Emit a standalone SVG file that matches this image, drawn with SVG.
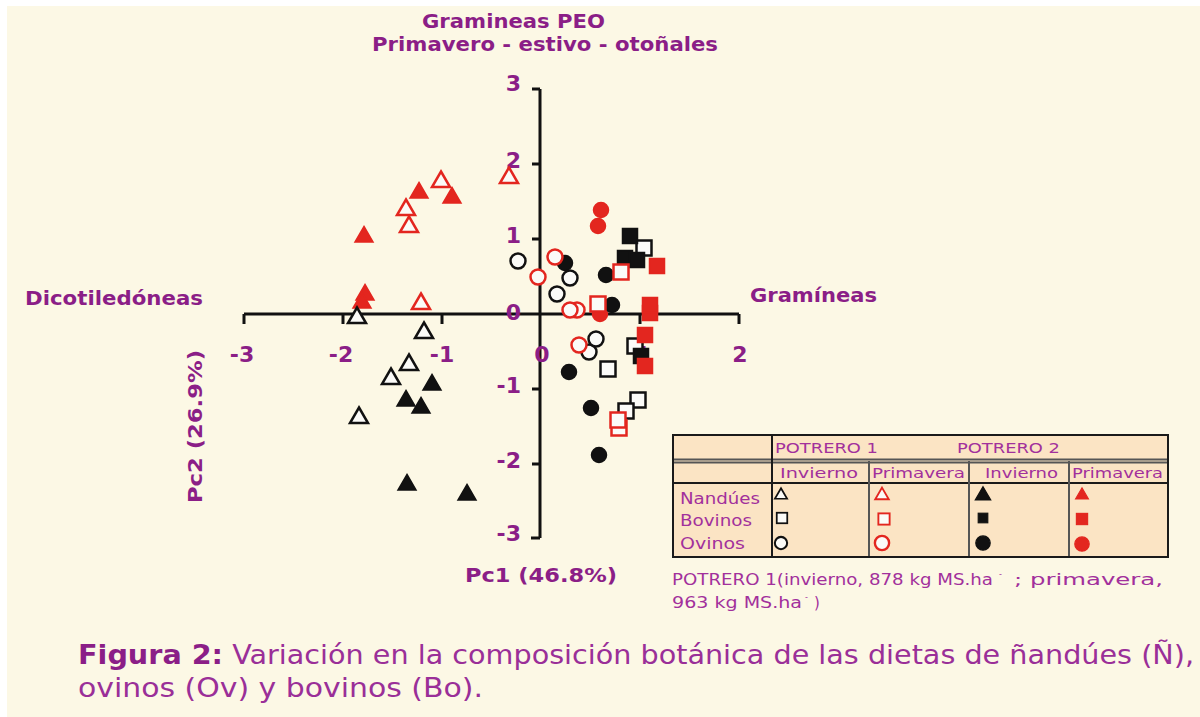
<svg xmlns="http://www.w3.org/2000/svg" xmlns:xlink="http://www.w3.org/1999/xlink" width="1200" height="717" viewBox="0 0 1200 717">
<style>
.lab{font-family:"DejaVu Sans","Verdana",sans-serif;font-weight:bold;font-size:20px;fill:#8b1e87}
.tick{font-family:"DejaVu Sans","Verdana",sans-serif;font-weight:bold;font-size:22px;fill:#8b1e87}
.tx{text-anchor:middle}
.ty{text-anchor:end}
.leg{font-family:"DejaVu Sans","Verdana",sans-serif;font-size:14px;fill:#a2309c}
.legr{font-family:"DejaVu Sans","Verdana",sans-serif;font-size:16px;fill:#a2309c}
.foot{font-family:"DejaVu Sans","Verdana",sans-serif;font-size:15px;fill:#a2309c}
.cap{font-family:"DejaVu Sans","Verdana",sans-serif;font-size:27px;fill:#9a2f98}
.axis{stroke:#111;stroke-width:3;fill:none}
.ob{fill:#fbfbf8;stroke:#111;stroke-width:2.5}
.or{fill:#fbfbf8;stroke:#e3261f;stroke-width:2.5}
.fb{fill:#111;stroke:#111;stroke-width:1.5}
.fr{fill:#e3261f;stroke:#e3261f;stroke-width:1.5}
.tl{fill:#fbe4c4;stroke:none}
.tb{stroke:#1a1a1a;stroke-width:2;fill:none}
.tg{stroke:#555;stroke-width:2;fill:none}
</style>
<defs>
<path id="tri" d="M0,-8.5 L9,7 L-9,7 Z"/>
<rect id="sq" x="-7.5" y="-7.5" width="15" height="15"/>
<circle id="ci" cx="0" cy="0" r="7.5"/>
</defs>
<rect x="0" y="0" width="1200" height="717" fill="#ffffff"/>
<rect x="7" y="6" width="1193" height="711" fill="#fcf8e5"/>

<g id="titles">
<text class="lab" x="422" y="28" textLength="183" lengthAdjust="spacingAndGlyphs">Gramineas PEO</text>
<text class="lab" x="372" y="51" textLength="346" lengthAdjust="spacingAndGlyphs">Primavero - estivo - otoñales</text>
<text class="lab" x="25" y="305" textLength="178" lengthAdjust="spacingAndGlyphs">Dicotiledóneas</text>
<text class="lab" x="750" y="302" textLength="127" lengthAdjust="spacingAndGlyphs">Gramíneas</text>
<text class="lab" transform="translate(202,503) rotate(-90)" textLength="153" lengthAdjust="spacingAndGlyphs">Pc2 (26.9%)</text>
<text class="lab" x="465" y="582" textLength="152" lengthAdjust="spacingAndGlyphs">Pc1 (46.8%)</text>
</g>

<g id="axes">
<path class="axis" d="M244,314 H739 M244,314 V324 M343,314 V324 M442,314 V324 M640,314 V324 M739,314 V324"/>
<path class="axis" d="M540,89 V538 M532,89 H540 M532,164 H540 M532,239 H540 M532,389 H540 M532,464 H540 M531,538 H540"/>
</g>

<g id="tick-labels">
<text class="tick tx" x="242" y="362">-3</text>
<text class="tick tx" x="341" y="362">-2</text>
<text class="tick tx" x="442" y="362">-1</text>
<text class="tick tx" x="542" y="362">0</text>
<text class="tick tx" x="643" y="362">1</text>
<text class="tick tx" x="740" y="362">2</text>
<text class="tick ty" x="521" y="91">3</text>
<text class="tick ty" x="521" y="168">2</text>
<text class="tick ty" x="521" y="243">1</text>
<text class="tick ty" x="521" y="320">0</text>
<text class="tick ty" x="521" y="393">-1</text>
<text class="tick ty" x="521" y="468">-2</text>
<text class="tick ty" x="521" y="541">-3</text>
</g>

<g id="points-nandues">
<use href="#tri" class="or" x="441" y="180"/>
<use href="#tri" class="fr" x="419" y="191"/>
<use href="#tri" class="fr" x="452" y="196"/>
<use href="#tri" class="or" x="406" y="208"/>
<use href="#tri" class="or" x="409" y="225"/>
<use href="#tri" class="or" x="509" y="176"/>
<use href="#tri" class="fr" x="364" y="235"/>
<use href="#tri" class="fr" x="365" y="293"/>
<use href="#tri" class="fr" x="362" y="301"/>
<use href="#tri" class="or" x="421" y="302"/>
<use href="#tri" class="ob" x="357" y="316"/>
<use href="#tri" class="ob" x="424" y="331"/>
<use href="#tri" class="ob" x="409" y="363"/>
<use href="#tri" class="ob" x="391" y="377"/>
<use href="#tri" class="ob" x="359" y="416"/>
<use href="#tri" class="fb" x="432" y="383"/>
<use href="#tri" class="fb" x="406" y="399"/>
<use href="#tri" class="fb" x="421" y="406"/>
<use href="#tri" class="fb" x="407" y="483"/>
<use href="#tri" class="fb" x="467" y="493"/>
</g>

<g id="points-ovinos">
<use href="#ci" class="fr" x="601" y="210"/>
<use href="#ci" class="fr" x="598" y="226"/>
<use href="#ci" class="ob" x="518" y="261"/>
<use href="#ci" class="fb" x="565" y="263"/>
<use href="#ci" class="or" x="555" y="257"/>
<use href="#ci" class="ob" x="570" y="278"/>
<use href="#ci" class="or" x="538" y="277"/>
<use href="#ci" class="ob" x="557" y="294"/>
<use href="#ci" class="fb" x="606" y="275"/>
<use href="#ci" class="or" x="577" y="310"/>
<use href="#ci" class="or" x="570" y="310"/>
<use href="#ci" class="fr" x="600" y="314"/>
<use href="#ci" class="fb" x="612" y="305"/>
<use href="#ci" class="ob" x="589" y="352"/>
<use href="#ci" class="ob" x="596" y="339"/>
<use href="#ci" class="or" x="579" y="345"/>
<use href="#ci" class="fb" x="569" y="372"/>
<use href="#ci" class="fb" x="591" y="408"/>
<use href="#ci" class="fb" x="599" y="455"/>
</g>

<g id="points-bovinos">
<use href="#sq" class="ob" x="644" y="248"/>
<use href="#sq" class="fb" x="630" y="236"/>
<use href="#sq" class="fb" x="625" y="258"/>
<use href="#sq" class="fb" x="637" y="260"/>
<use href="#sq" class="fr" x="657" y="266"/>
<use href="#sq" class="or" x="621" y="272"/>
<use href="#sq" class="or" x="598" y="304"/>
<use href="#sq" class="fr" x="650" y="313"/>
<use href="#sq" class="fr" x="650" y="305"/>
<use href="#sq" class="ob" x="635" y="346"/>
<use href="#sq" class="fr" x="645" y="335"/>
<use href="#sq" class="fb" x="641" y="356"/>
<use href="#sq" class="fr" x="645" y="366"/>
<use href="#sq" class="ob" x="608" y="369"/>
<use href="#sq" class="ob" x="638" y="400"/>
<use href="#sq" class="ob" x="626" y="411"/>
<use href="#sq" class="or" x="619" y="428"/>
<use href="#sq" class="or" x="618" y="420"/>
</g>

<g id="legend">
<rect class="tl" x="673" y="435" width="495" height="122"/>
<path class="tg" d="M673,459.5 H1168 M673,462.5 H1168"/>
<path class="tb" d="M673,483 H1168"/>
<path class="tg" d="M869,461 V557 M969,461 V557 M1069,461 V557"/>
<path class="tb" d="M772,435 V557"/>
<rect class="tb" x="673" y="435" width="495" height="122"/>
<text class="leg" x="775" y="453" textLength="103" lengthAdjust="spacingAndGlyphs">POTRERO 1</text>
<text class="leg" x="957" y="453" textLength="103" lengthAdjust="spacingAndGlyphs">POTRERO 2</text>
<text class="leg" x="780" y="478" textLength="78" lengthAdjust="spacingAndGlyphs">Invierno</text>
<text class="leg" x="872" y="478" textLength="93" lengthAdjust="spacingAndGlyphs">Primavera</text>
<text class="leg" x="985" y="478" textLength="73" lengthAdjust="spacingAndGlyphs">Invierno</text>
<text class="leg" x="1072" y="478" textLength="91" lengthAdjust="spacingAndGlyphs">Primavera</text>
<text class="legr" x="680" y="504" textLength="80" lengthAdjust="spacingAndGlyphs">Nandúes</text>
<text class="legr" x="680" y="526" textLength="72" lengthAdjust="spacingAndGlyphs">Bovinos</text>
<text class="legr" x="680" y="549" textLength="65" lengthAdjust="spacingAndGlyphs">Ovinos</text>
<g transform="translate(781,494) scale(0.68)"><use href="#tri" class="ob"/></g>
<g transform="translate(782,518) scale(0.7)"><use href="#sq" class="ob"/></g>
<g transform="translate(781,543) scale(0.82)"><use href="#ci" class="ob"/></g>
<g transform="translate(882,494) scale(0.75)"><use href="#tri" class="or"/></g>
<g transform="translate(884,519) scale(0.75)"><use href="#sq" class="or"/></g>
<g transform="translate(882,543) scale(0.95)"><use href="#ci" class="or"/></g>
<g transform="translate(983,494) scale(0.85)"><use href="#tri" class="fb"/></g>
<g transform="translate(983,518) scale(0.65)"><use href="#sq" class="fb"/></g>
<g transform="translate(983,543) scale(0.95)"><use href="#ci" class="fb"/></g>
<g transform="translate(1082,494) scale(0.72)"><use href="#tri" class="fr"/></g>
<g transform="translate(1082,519) scale(0.75)"><use href="#sq" class="fr"/></g>
<g transform="translate(1082,544) scale(0.95)"><use href="#ci" class="fr"/></g>
</g>

<g id="footnote">
<text class="foot" x="672" y="585" textLength="321" lengthAdjust="spacingAndGlyphs">POTRERO 1(invierno, 878 kg MS.ha</text>
<text class="foot" x="999" y="577" style="font-size:8px">-</text>
<text class="foot" x="1014" y="585" textLength="149" lengthAdjust="spacingAndGlyphs">; primavera,</text>
<text class="foot" x="672" y="608" textLength="130" lengthAdjust="spacingAndGlyphs">963 kg MS.ha</text>
<text class="foot" x="805" y="600" style="font-size:8px">-</text>
<text class="foot" x="814" y="608">)</text>
</g>

<g id="caption">
<text class="cap" x="78" y="664" textLength="1116" lengthAdjust="spacingAndGlyphs"><tspan style="font-weight:bold;fill:#8b1e87">Figura 2:</tspan> Variación en la composición botánica de las dietas de ñandúes (Ñ),</text>
<text class="cap" x="78" y="697" textLength="405" lengthAdjust="spacingAndGlyphs">ovinos (Ov) y bovinos (Bo).</text>
</g>
</svg>
